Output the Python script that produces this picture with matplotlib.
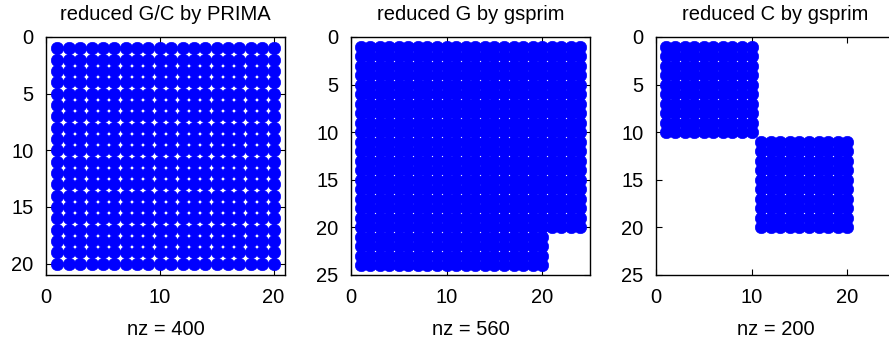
import numpy as np
import matplotlib
matplotlib.use("Agg")
import matplotlib.pyplot as plt

plt.rcParams['font.family'] = ['Liberation Sans', 'DejaVu Sans']

titles = ["reduced G/C by PRIMA", "reduced G by gsprim", "reduced C by gsprim"]
sizes = [20, 24, 24]
axlims = [21, 25, 25]
yticks = [[0, 5, 10, 15, 20], [0, 5, 10, 15, 20, 25], [0, 5, 10, 15, 20, 25]]
xticks = [0, 10, 20]

# nonzero blocks (row_start, row_end, col_start, col_end), 1-based inclusive
blocks = [
    [(1, 20, 1, 20)],
    [(1, 20, 1, 24), (21, 24, 1, 20)],
    [(1, 10, 1, 10), (11, 20, 11, 20)],
]

def build(n, blist):
    M = np.zeros((n, n))
    for r0, r1, c0, c1 in blist:
        M[r0 - 1:r1, c0 - 1:c1] = 1
    return M

fig = plt.figure(figsize=(8.89, 3.5), dpi=100)
lefts = [46, 351, 656]
for i in range(3):
    ax = fig.add_axes([lefts[i] / 889, 75 / 350, 239 / 889, 238 / 350])
    M = build(sizes[i], blocks[i])
    r, c = np.nonzero(M)
    ax.plot(c + 1, r + 1, 'o', color='blue', ms=9.0, mew=0.4, mec='blue', ls='none')
    ax.set_xlim(0, axlims[i])
    ax.set_ylim(axlims[i], 0)
    ax.set_xticks(xticks)
    ax.set_yticks(yticks[i])
    ax.tick_params(direction='in', top=True, right=True, labelsize=14.5, length=4)
    ax.tick_params(axis='x', pad=9.5)
    ax.tick_params(axis='y', pad=9)
    for s in ax.spines.values():
        s.set_linewidth(1.0)
    ax.set_title(titles[i], fontsize=14.5, pad=12.5)
    ax.set_xlabel("nz = %d" % int(M.sum()), fontsize=14.5, labelpad=9)

fig.savefig("out.png", dpi=100)
